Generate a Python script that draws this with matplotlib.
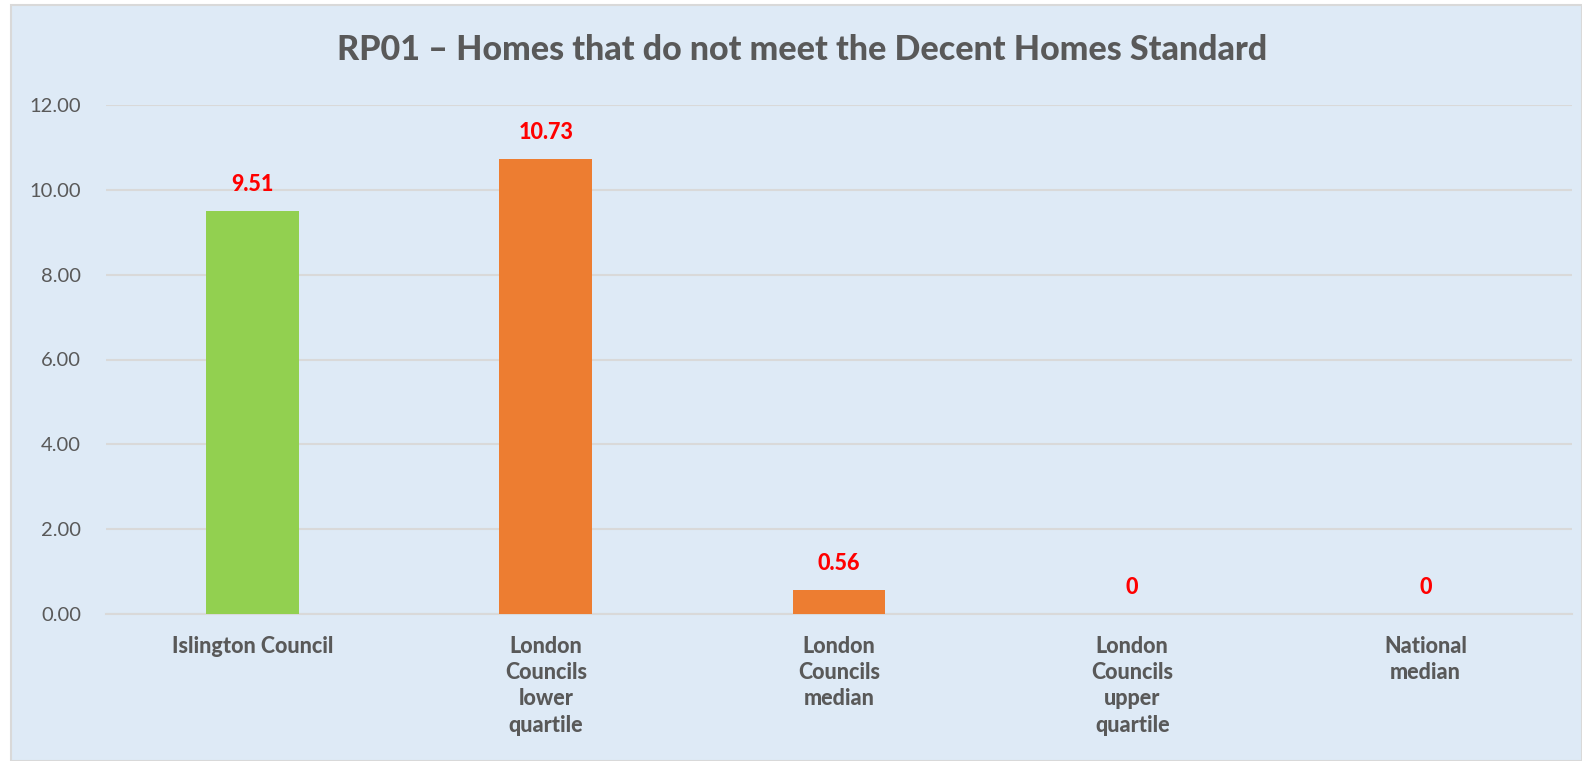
import numpy as np
import matplotlib.pyplot as plt
from matplotlib.patches import Rectangle

plt.rcParams['font.family'] = ['Lato', 'DejaVu Sans']

# Data
categories = ["Islington Council", "London\nCouncils\nlower\nquartile", "London\nCouncils\nmedian",
              "London\nCouncils\nupper\nquartile", "National\nmedian"]
values = [9.51, 10.73, 0.56, 0, 0]
value_labels = ["9.51", "10.73", "0.56", "0", "0"]
bar_colors = ["#92D050", "#ED7D31", "#ED7D31", "#ED7D31", "#ED7D31"]
yticks = [0, 2, 4, 6, 8, 10, 12]

text_grey = "#595959"
bg = "#DEEAF6"

fig = plt.figure(figsize=(15.82, 7.61), dpi=100)
fig.patch.set_facecolor("white")
# chart area background with border
fig.patches.append(Rectangle((11 / 1582, 0), 1 - 11 / 1582, 1 - 5 / 761, transform=fig.transFigure,
                             facecolor=bg, edgecolor="#D9D9D9", linewidth=1.5, zorder=-5))

ax = fig.add_axes([106 / 1582, 1 - 614 / 761, (1572 - 106) / 1582, (614 - 105) / 761])
ax.set_facecolor("none")

x = np.arange(len(categories))
bars = ax.bar(x, values, width=0.317, color=bar_colors, zorder=3)

for xi, v, lab in zip(x, values, value_labels):
    ax.annotate(lab, (xi, v), xytext=(0, 19), textcoords="offset points", ha="center", va="center",
                color="#FF0000", fontsize=15.5, fontweight="black")

ax.set_xlim(-0.5, len(categories) - 0.5)
ax.set_ylim(0, 12)
ax.set_yticks(yticks)
ax.set_yticklabels([f"{t:.2f}" for t in yticks])
ax.grid(axis="y", color="#D9D9D9", linewidth=1.5, zorder=0)
ax.set_axisbelow(True)

ax.set_xticks(x)
ax.set_xticklabels(categories, fontsize=15.5, fontweight="black", color=text_grey, va="top",
                   linespacing=1.3)
ax.tick_params(axis="x", length=0, pad=16)
ax.tick_params(axis="y", length=0, pad=18, labelsize=14.5, labelcolor=text_grey)

for s in ["top", "right", "left"]:
    ax.spines[s].set_visible(False)
ax.spines["bottom"].set_color("#D9D9D9")
ax.spines["bottom"].set_linewidth(1.5)

fig.text(802 / 1582, 1 - 50 / 761, "RP01 \u2013 Homes that do not meet the Decent Homes Standard",
         ha="center", va="center", fontsize=24.5, fontweight="black", color=text_grey)

fig.savefig("out.png", dpi=100, facecolor=fig.get_facecolor())
